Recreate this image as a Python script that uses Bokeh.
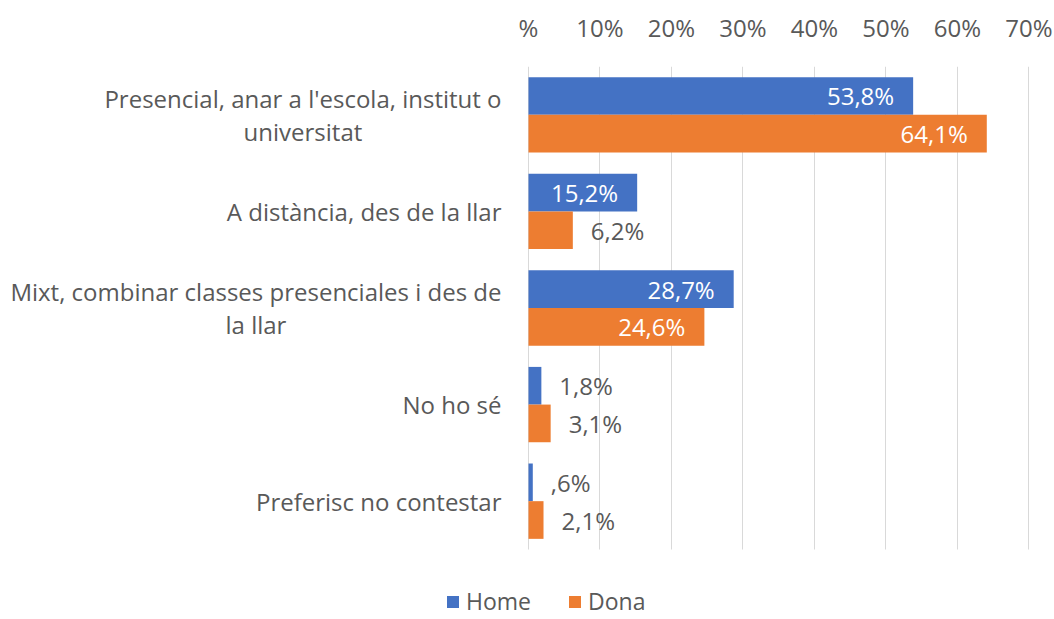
from bokeh.plotting import figure
from bokeh.models import (ColumnDataSource, Range1d, FixedTicker,
                          Legend, LegendItem)
from bokeh.transform import dodge
from bokeh.core.properties import value
from bokeh.embed import file_html
from bokeh.resources import INLINE

# ---- data ----
categories = [
    "Presencial, anar a l'escola, institut o\nuniversitat",
    "A distància, des de la llar",
    "Mixt, combinar classes presenciales i des de\nla llar",
    "No ho sé",
    "Preferisc no contestar",
]
series = ["Home", "Dona"]
home = [53.8, 15.2, 28.7, 1.8, 0.6]
dona = [64.1, 6.2, 24.6, 3.1, 2.1]
home_labels = ["53,8%", "15,2%", "28,7%", "1,8%", ",6%"]
dona_labels = ["64,1%", "6,2%", "24,6%", "3,1%", "2,1%"]
tick_values = [0, 10, 20, 30, 40, 50, 60, 70]
tick_labels = ["%", "10%", "20%", "30%", "40%", "50%", "60%", "70%"]

# ---- style ----
FONT = "Open Sans"
TEXT = "#595959"
BLUE = "#4472C4"
ORANGE = "#ED7D31"
GRID = "#D9D9D9"
FS = "24px"
BAR_H = 0.39
OFF = 0.195
INSIDE_MIN = 10

n = len(categories)
ypos = list(range(n))  # category slots, first on top

p = figure(width=1054, height=619, output_backend="svg", toolbar_location=None,
           y_range=Range1d(n - 0.5 + 0.725, -0.5),
           x_range=Range1d(-73.85, 73.57),
           x_axis_location="above", y_axis_location=None,
           min_border_left=0, min_border_right=0, min_border_top=66,
           min_border_bottom=0)
p.outline_line_color = None
p.background_fill_color = "white"
p.border_fill_color = "white"

ax = p.xaxis[0]
ax.ticker = FixedTicker(ticks=tick_values)
ax.major_label_overrides = dict(zip(tick_values, tick_labels))
ax.axis_line_color = None
ax.major_tick_line_color = None
ax.minor_tick_line_color = None
ax.major_label_text_font = FONT
ax.major_label_text_font_size = FS
ax.major_label_text_color = TEXT
ax.major_label_standoff = 17

p.xgrid.grid_line_color = GRID
p.xgrid.grid_line_width = 1
p.xgrid.cross_bounds = (-0.5, n - 0.5)
p.ygrid.grid_line_color = None

src = ColumnDataSource(dict(cat=categories, y=ypos, home=home, dona=dona,
                            home_label=home_labels, dona_label=dona_labels))

r_home = p.hbar(y=dodge("y", -OFF), left=0, right="home",
                height=BAR_H, source=src, fill_color=BLUE, line_color=None)
r_dona = p.hbar(y=dodge("y", OFF), left=0, right="dona",
                height=BAR_H, source=src, fill_color=ORANGE, line_color=None)

def label_sources(vals, labels):
    ins = dict(y=[], v=[], t=[])
    out = dict(y=[], v=[], t=[])
    for yy, v, t in zip(ypos, vals, labels):
        d = ins if v >= INSIDE_MIN else out
        d["y"].append(yy); d["v"].append(v); d["t"].append(t)
    return ColumnDataSource(ins), ColumnDataSource(out)

for vals, labels, off in ((home, home_labels, -OFF), (dona, dona_labels, OFF)):
    s_in, s_out = label_sources(vals, labels)
    p.text(x="v", y=dodge("y", off), text="t", source=s_in,
           text_align="right", text_baseline="middle", x_offset=-19,
           text_color="white", text_font=value(FONT), text_font_size=FS)
    p.text(x="v", y=dodge("y", off), text="t", source=s_out,
           text_align="left", text_baseline="middle", x_offset=18,
           text_color=TEXT, text_font=value(FONT), text_font_size=FS)

# category labels
p.text(x=0, y="y", text="cat", source=src, anchor=value("center_right"),
       text_align="center", text_baseline="middle", x_offset=-27,
       text_line_height=1.0, text_color=TEXT, text_font=value(FONT),
       text_font_size=FS)

legend = Legend(items=[LegendItem(label=series[0], renderers=[r_home]),
                       LegendItem(label=series[1], renderers=[r_dona])],
                orientation="horizontal", location=(445, 2),
                border_line_color=None, background_fill_alpha=0,
                label_text_font=FONT, label_text_font_size="23px",
                label_text_color=TEXT, glyph_width=15, glyph_height=15,
                spacing=36, label_standoff=6, padding=0, margin=0)
p.add_layout(legend, "center")

open("out.html", "w").write(file_html(p, INLINE))
